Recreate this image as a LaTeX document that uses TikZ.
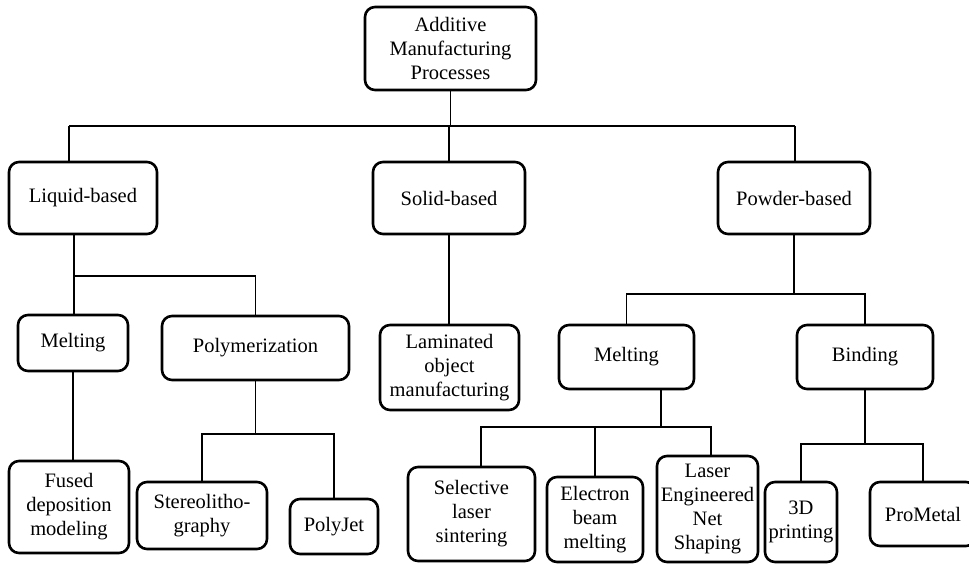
\documentclass[tikz,border=0pt]{standalone}
\usepackage{fontspec}
\setmainfont{Liberation Serif}
\newfontfamily\boxfont{Liberation Serif}
\begin{document}
\begin{tikzpicture}[x=1pt,y=-1pt,
  procbox/.style={draw, rounded corners=10pt, line width=2.6pt, inner sep=0pt,
    align=center, font=\boxfont\fontsize{20.5}{24}\selectfont},
  conn/.style={line width=1.5pt}]
\useasboundingbox (0,0) rectangle (969,563);
\clip (0,0) rectangle (969,563);

% level 0
\node[procbox, minimum width=171pt, minimum height=83pt] (root) at (450.5,48.5)
  {Additive\\Manufacturing\\Processes};

% level 1
\node[procbox, minimum width=148pt, minimum height=72pt] (liq) at (83,198) {Liquid-based};
\node[procbox, minimum width=152pt, minimum height=72pt] (sol) at (449,198) {Solid-based};
\node[procbox, minimum width=152pt, minimum height=72pt] (pow) at (794,198) {Powder-based};

% level 2
\node[procbox, minimum width=110pt, minimum height=56pt] (meltL) at (73,343) {Melting};
\node[procbox, minimum width=187pt, minimum height=64pt] (poly) at (255.5,348) {Polymerization};
\node[procbox, minimum width=139pt, minimum height=85pt] (lom) at (449.5,367.5)
  {Laminated\\object\\manufacturing};
\node[procbox, minimum width=135pt, minimum height=64pt] (meltR) at (626.5,357) {Melting};
\node[procbox, minimum width=136pt, minimum height=64pt] (bind) at (865,357) {Binding};

% level 3
\node[procbox, minimum width=120pt, minimum height=92pt] (fdm) at (69,507)
  {Fused\\deposition\\modeling};
\node[procbox, minimum width=130pt, minimum height=67pt] (sla) at (202,515.5)
  {Stereolitho-\\graphy};
\node[procbox, minimum width=88pt, minimum height=55pt] (pj) at (334,526.5) {PolyJet};
\node[procbox, minimum width=127pt, minimum height=94pt] (sls) at (471.5,514)
  {Selective\\laser\\sintering};
\node[procbox, minimum width=96pt, minimum height=85pt] (ebm) at (595,519.5)
  {Electron\\beam\\melting};
\node[procbox, minimum width=101pt, minimum height=106pt] (lens) at (707.5,509)
  {Laser\\Engineered\\Net\\Shaping};
\node[procbox, minimum width=72pt, minimum height=80pt] (p3d) at (801,522)
  {3D\\printing};
\node[procbox, minimum width=106pt, minimum height=64pt] (pm) at (923,514) {ProMetal};

% junction points of the tree
\coordinate (busL) at (69,126);
\coordinate (busR) at (795,126);
\coordinate (jL) at (74,276);
\coordinate (jP) at (256,434);
\coordinate (jW) at (795,294);
\coordinate (jM) at (661,427);
\coordinate (jB) at (865,444);

% root to first level
\draw[conn] (root.south) -- (root.south |- busL);
\draw[conn] (busL) -- (busR);
\draw[conn] (busL) -- (busL |- liq.north);
\draw[conn] (sol.north) -- (sol.north |- busL);
\draw[conn] (busR) -- (busR |- pow.north);

% liquid-based branch
\draw[conn] (jL |- liq.south) -- (jL |- meltL.north);
\draw[conn] (jL) -| (poly.north);
\draw[conn] (meltL.south) -- (meltL.south |- fdm.north);
\draw[conn] (poly.south) -- (poly.south |- jP);
\draw[conn] (jP) -| (sla.north);
\draw[conn] (jP) -| (pj.north);

% solid-based branch
\draw[conn] (sol.south) -- (sol.south |- lom.north);

% powder-based branch
\draw[conn] (pow.south) -- (pow.south |- jW);
\draw[conn] (jW) -| (meltR.north);
\draw[conn] (jW) -| (bind.north);
\draw[conn] (jM |- meltR.south) -- (jM);
\draw[conn] (jM) -| ([xshift=9.5pt]sls.north);
\draw[conn] (jM) -| (ebm.north);
\draw[conn] (jM) -| ([xshift=3.5pt]lens.north);
\draw[conn] (bind.south) -- (jB);
\draw[conn] (jB) -| (p3d.north);
\draw[conn] (jB) -| (pm.north);
\end{tikzpicture}
\end{document}
